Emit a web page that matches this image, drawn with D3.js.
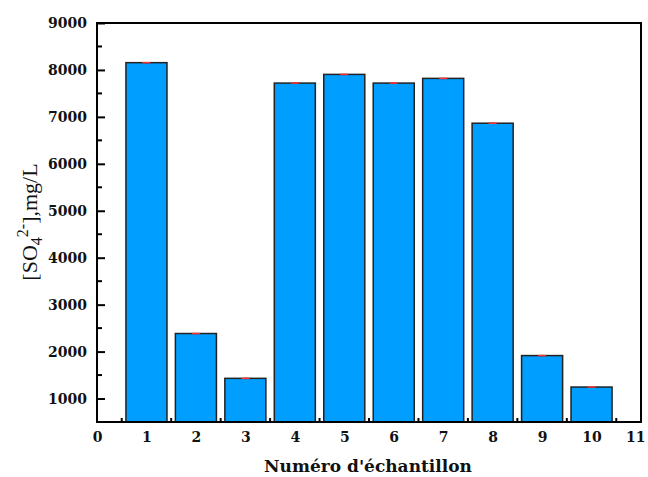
<!DOCTYPE html>
<html><head><meta charset="utf-8">
<script src="https://cdn.jsdelivr.net/npm/d3@7"></script>
<style>body{margin:0;background:#fff}svg{display:block}</style>
</head><body>
<svg id="c" width="648" height="477"></svg>
<script>
const samples = [1,2,3,4,5,6,7,8,9,10];
const sulfate = [8155,2385,1430,7720,7905,7720,7820,6865,1915,1245];
const yTicks = [1000,2000,3000,4000,5000,6000,7000,8000,9000];
const xTicks = [0,1,2,3,4,5,6,7,8,9,10,11];

const svg = d3.select("#c");
const L=97, R=641, T=23, B=422;
const x = d3.scaleLinear().domain([0,11]).range([L,R]);
const y = d3.scaleLinear().domain([500,9000]).range([B,T]);
const tickFont = "DejaVu Serif";

// minor x ticks (inside)
svg.append("g").selectAll("line").data(d3.range(0.5,11,1)).join("line")
  .attr("x1",d=>x(d)).attr("x2",d=>x(d)).attr("y1",B).attr("y2",B-4)
  .attr("stroke","#000").attr("stroke-width",2);

// bars
const bw = x(0.83)-x(0);
svg.append("g").selectAll("rect").data(samples).join("rect")
  .attr("x",(d)=>x(d)-bw/2).attr("width",bw)
  .attr("y",(d,i)=>y(sulfate[i])).attr("height",(d,i)=>B-y(sulfate[i]))
  .attr("fill","#009eff").attr("stroke","#222").attr("stroke-width",1.5);

// error caps
svg.append("g").selectAll("line").data(samples).join("line")
  .attr("x1",d=>x(d)-4).attr("x2",d=>x(d)+4)
  .attr("y1",(d,i)=>y(sulfate[i])).attr("y2",(d,i)=>y(sulfate[i]))
  .attr("stroke","#ff3030").attr("stroke-width",1.5);

// y axis ticks inside
const yAxis = d3.axisLeft(y).tickValues(yTicks).tickSize(-8).tickPadding(10).tickFormat(d3.format("d"));
const gy = svg.append("g").attr("transform",`translate(${L},0)`).call(yAxis);
gy.select(".domain").remove();
gy.selectAll(".tick line").attr("stroke","#000").attr("stroke-width",2);
gy.selectAll("text").attr("font-family",tickFont).attr("font-weight","bold").attr("font-size",14).attr("fill","#111");
// minor y ticks
svg.append("g").selectAll("line").data(d3.range(1500,9000,1000)).join("line")
  .attr("x1",L).attr("x2",L+5).attr("y1",d=>y(d)).attr("y2",d=>y(d))
  .attr("stroke","#000").attr("stroke-width",2);

// x axis labels
const xAxis = d3.axisBottom(x).tickValues(xTicks).tickSize(0).tickPadding(10).tickFormat(d3.format("d"));
const gx = svg.append("g").attr("transform",`translate(0,${B})`).call(xAxis);
gx.select(".domain").remove();
gx.selectAll("text").attr("font-family",tickFont).attr("font-weight","bold").attr("font-size",14).attr("fill","#111");
gx.selectAll("text").filter(d=>d===11).attr("text-anchor","end").attr("dx",4);

// frame
svg.append("rect").attr("x",L).attr("y",T).attr("width",R-L).attr("height",B-T)
  .attr("fill","none").attr("stroke","#000").attr("stroke-width",2);

// x label
svg.append("text").attr("x",368).attr("y",472).attr("text-anchor","middle")
  .attr("font-family",tickFont).attr("font-weight","bold").attr("font-size",17).attr("fill","#111")
  .text("Numéro d'échantillon");

// y label
const yl = svg.append("text").attr("transform","translate(37,222) rotate(-90)").attr("text-anchor","middle")
  .attr("font-family","Liberation Serif").attr("font-size",22).attr("fill","#111");
yl.append("tspan").text("[SO");
yl.append("tspan").attr("font-size",16).attr("dy",5).text("4");
yl.append("tspan").attr("font-size",16).attr("dy",-14).text("2-");
yl.append("tspan").attr("dy",9).text("],mg/L");
</script>
</body></html>
